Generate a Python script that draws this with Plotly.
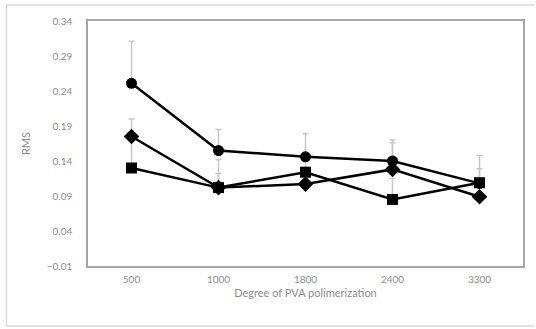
import plotly.graph_objects as go

categories = ["500", "1000", "1800", "2400", "3300"]
circle_vals = [0.251, 0.155, 0.146, 0.140, 0.108]
circle_err = [0.060, 0.030, 0.033, 0.030, 0.040]
diamond_vals = [0.175, 0.102, 0.107, 0.128, 0.089]
diamond_err = [0.025, 0.040, 0.020, 0.038, 0.020]
square_vals = [0.130, 0.102, 0.124, 0.085, 0.109]
square_err = [0.045, 0.020, 0.020, 0.030, 0.020]
y_ticks = [-0.01, 0.04, 0.09, 0.14, 0.19, 0.24, 0.29, 0.34]

fig = go.Figure()
series = [
    ("square", square_vals, square_err),
    ("diamond", diamond_vals, diamond_err),
    ("circle", circle_vals, circle_err),
]
# error bars first, so they sit behind all lines and markers
for sym, vals, err in series:
    fig.add_trace(go.Scatter(
        x=categories, y=vals, mode="markers",
        marker=dict(size=1, color="rgba(0,0,0,0)"),
        error_y=dict(type="data", array=err, symmetric=False, arrayminus=[0]*len(err),
                     color="#c8c8c8", thickness=1.5, width=3),
        showlegend=False, hoverinfo="skip",
    ))
for sym, vals, err in series:
    fig.add_trace(go.Scatter(
        x=categories, y=vals, mode="lines+markers", name=sym,
        line=dict(color="black", width=2.5),
        marker=dict(symbol=sym, size=12 if sym == "diamond" else 11, color="black"),
        showlegend=False,
    ))

L, R, T, B = 88, 11, 21, 63
W, H = 536, 329
pw, ph = W - L - R, H - T - B
fig.update_layout(
    width=W, height=H,
    margin=dict(l=L, r=R, t=T, b=B),
    paper_bgcolor="white", plot_bgcolor="white",
    font=dict(family="Lato, Liberation Sans, sans-serif", color="#8c8c8c", size=10),
    xaxis=dict(type="category", range=[-0.5, 4.5], showgrid=False, zeroline=False,
               showline=True, mirror=True, linecolor="#a6a6a6", linewidth=1.5,
               ticks="outside", ticklen=3, tickcolor="rgba(0,0,0,0)",
               tickfont=dict(size=10, color="#8c8c8c"),
               title=dict(text="Degree of PVA polimerization", font=dict(size=11, color="#8c8c8c"), standoff=6)),
    yaxis=dict(range=[-0.01, 0.34], tickvals=y_ticks, tickformat=".2f", showgrid=False,
               zeroline=False, showline=True, mirror=True, linecolor="#a6a6a6", linewidth=1.5,
               ticks="outside", ticklen=12, tickcolor="rgba(0,0,0,0)",
               tickfont=dict(size=10, color="#8c8c8c"),
               title=dict(text="RMS", font=dict(size=11, color="#8c8c8c"), standoff=14)),
)
fx0, fx1 = (6 - L) / pw, (W - L) / pw
fy0, fy1 = (H - B - 326) / ph, (H - B - 5) / ph
frame = dict(color="#d9d9d9", width=1.5)
for x0, y0, x1, y1 in [(fx0, fy1, fx1, fy1), (fx0, fy0, fx1, fy0), (fx0, fy0, fx0, fy1)]:
    fig.add_shape(type="line", xref="paper", yref="paper", x0=x0, y0=y0, x1=x1, y1=y1,
                  line=frame, layer="below")
fig.write_html("out.html", config={"displayModeBar": False},
               post_script="document.body.style.margin='0';document.body.style.overflow='hidden';")
